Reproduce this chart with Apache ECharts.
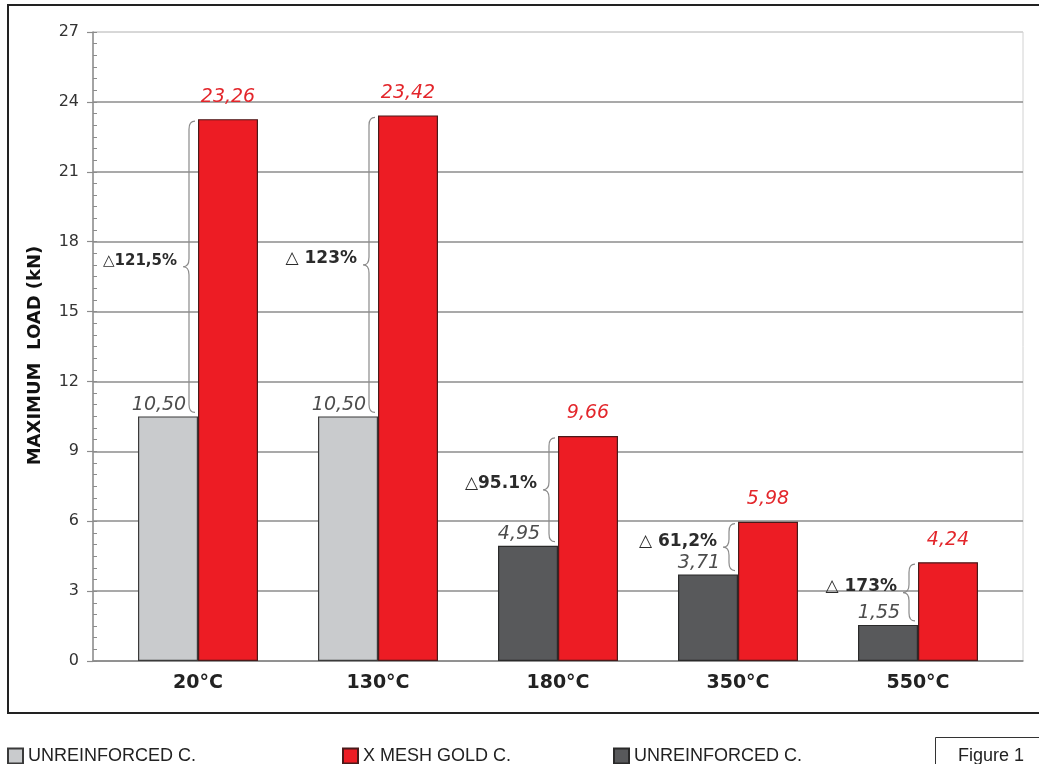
<!DOCTYPE html>
<html>
<head>
<meta charset="utf-8">
<script src="https://cdn.jsdelivr.net/npm/echarts@6/dist/echarts.min.js"></script>
<style>
html,body{margin:0;padding:0;background:#fff;}
#chart{width:1039px;height:764px;}
</style>
</head>
<body>
<div id="chart"></div>
<script>
const categories = ['20°C', '130°C', '180°C', '350°C', '550°C'];
const unreinforcedLight = [10.50, 10.50, null, null, null];
const meshGold = [23.26, 23.42, 9.66, 5.98, 4.24];
const unreinforcedDark = [null, null, 4.95, 3.71, 1.55];
const deltaLabels = ['△121,5%', '△ 123%', '△95.1%', '△ 61,2%', '△ 173%'];
const yTicks = [0, 3, 6, 9, 12, 15, 18, 21, 24, 27];

const fmt = v => v.toFixed(2).replace('.', ',');

const braceData = categories.map((c, i) => {
  const low = unreinforcedLight[i] != null ? unreinforcedLight[i] : unreinforcedDark[i];
  return [i, low, meshGold[i]];
});

const chart = echarts.init(document.getElementById('chart'));

const splitColors = yTicks.map((t, i) => i === yTicks.length - 1 ? '#d2d2d2' : '#8c8c8c');

const legendText = {fontFamily: '"Liberation Sans Narrow","Liberation Sans",Arial,sans-serif', fontSize: 18, color: '#222'};

const option = {
  animation: false,
  backgroundColor: '#fff',
  grid: [
    {left: 93, right: 16, top: 32, bottom: 103, show: true, borderColor: '#d2d2d2', borderWidth: 1, backgroundColor: 'transparent'},
    {left: 108, right: 31, top: 32, bottom: 103}
  ],
  xAxis: [
    {gridIndex: 0, type: 'value', min: 0, max: 1, axisLine: {show: true, onZero: false, lineStyle: {color: '#8c8c8c', width: 1.5}},
     axisTick: {show: false}, axisLabel: {show: false}, splitLine: {show: false}},
    {gridIndex: 1, type: 'category', data: categories, axisLine: {show: false}, axisTick: {show: false}, splitLine: {show: false},
     axisLabel: {margin: 13, fontFamily: '"DejaVu Sans"', fontWeight: 'bold', fontSize: 19, color: '#222'}}
  ],
  yAxis: [
    {gridIndex: 0, type: 'value', position: 'left', min: 0, max: 27, interval: 3,
     name: 'MAXIMUM  LOAD (kN)', nameLocation: 'middle', nameGap: 49, nameRotate: 90,
     nameTextStyle: {fontFamily: '"DejaVu Sans"', fontWeight: 'bold', fontSize: 18, color: '#111', padding: [0, 18, 0, 0]},
     axisLine: {show: true, lineStyle: {color: '#8c8c8c', width: 1.5}},
     axisTick: {show: true, length: 6, lineStyle: {color: '#8c8c8c', width: 1.2}},
     axisLabel: {margin: 14, fontFamily: '"DejaVu Sans"', fontSize: 16, color: '#333'},
     splitLine: {show: true, lineStyle: {color: splitColors, width: 1.5}}},
    {gridIndex: 0, type: 'value', position: 'left', min: 0, max: 27, interval: 0.5,
     axisLine: {show: false}, axisLabel: {show: false}, splitLine: {show: false},
     axisTick: {show: true, inside: true, length: 4, lineStyle: {color: '#8c8c8c', width: 1}}},
    {gridIndex: 1, type: 'value', min: 0, max: 27, show: false}
  ],
  legend: [
    {data: ['UNREINFORCED C.'], left: 2, top: 742, itemWidth: 15, itemHeight: 15, icon: 'rect', textStyle: legendText, selectedMode: false},
    {data: ['X MESH GOLD C.'], left: 337, top: 742, itemWidth: 15, itemHeight: 15, icon: 'rect', textStyle: legendText, selectedMode: false},
    {data: ['UNREINFORCED C. '], left: 608, top: 742, itemWidth: 15, itemHeight: 15, icon: 'rect', textStyle: legendText, selectedMode: false}
  ],
  series: [
    {name: 'UNREINFORCED C.', type: 'bar', stack: 'u', xAxisIndex: 1, yAxisIndex: 2, data: unreinforcedLight,
     barWidth: 60, barGap: '0%',
     itemStyle: {color: '#c9cbcd', borderColor: '#3a3a3a', borderWidth: 1.2},
     label: {show: true, position: 'top', distance: 2, offset: [-9, 0], formatter: p => fmt(p.value),
             fontFamily: '"DejaVu Sans"', fontStyle: 'italic', fontSize: 19, color: '#4d4d4d'}},
    {name: 'X MESH GOLD C.', type: 'bar', xAxisIndex: 1, yAxisIndex: 2, data: meshGold,
     barWidth: 60, barGap: '0%',
     itemStyle: {color: '#ed1c24', borderColor: '#4a1a1a', borderWidth: 1.2},
     label: {show: true, position: 'top', distance: 13, formatter: p => fmt(p.value),
             fontFamily: '"DejaVu Sans"', fontStyle: 'italic', fontSize: 19, color: '#e3262b'}},
    {name: 'UNREINFORCED C. ', type: 'bar', stack: 'u', xAxisIndex: 1, yAxisIndex: 2, data: unreinforcedDark,
     barWidth: 60, barGap: '0%',
     itemStyle: {color: '#58595b', borderColor: '#2a2a2a', borderWidth: 1.2},
     label: {show: true, position: 'top', distance: 2, offset: [-9, 0], formatter: p => fmt(p.value),
             fontFamily: '"DejaVu Sans"', fontStyle: 'italic', fontSize: 19, color: '#4d4d4d'}},
    {name: 'brace', type: 'custom', xAxisIndex: 1, yAxisIndex: 2, data: braceData, z: 5, silent: true,
     renderItem: function (params, api) {
       const i = api.value(0);
       const top = api.coord([i, api.value(2)]);
       const bot = api.coord([i, api.value(1)]);
       const cx = top[0];
       const x0 = cx - 3, x1 = cx - 15, xm = (x0 + x1) / 2;
       const y1 = top[1] + 2, y2 = bot[1] - 4, ym = (y1 + y2) / 2;
       const r = Math.min(8, (y2 - y1) / 4);
       const d = 'M' + x0 + ' ' + y1 + ' Q' + xm + ' ' + y1 + ' ' + xm + ' ' + (y1 + r) +
                 ' L' + xm + ' ' + (ym - r) + ' Q' + xm + ' ' + ym + ' ' + x1 + ' ' + ym +
                 ' Q' + xm + ' ' + ym + ' ' + xm + ' ' + (ym + r) +
                 ' L' + xm + ' ' + (y2 - r) + ' Q' + xm + ' ' + y2 + ' ' + x0 + ' ' + y2;
       const fs = i === 0 ? 15 : 17;
       return {
         type: 'group',
         children: [
           {type: 'path', shape: {pathData: d}, style: {fill: null, stroke: '#8a8a8a', lineWidth: 1.2}},
           {type: 'text', style: {text: deltaLabels[i], x: x1 - 6, y: ym - 6, align: 'right', verticalAlign: 'middle',
             font: 'bold ' + fs + 'px "DejaVu Sans"', fill: '#2b2b2b'}}
         ]
       };
     }}
  ],
  graphic: [
    {type: 'rect', shape: {x: 8, y: 5, width: 1040, height: 708}, style: {fill: null, stroke: '#222', lineWidth: 2}, z: 100},
    {type: 'rect', shape: {x: 935.5, y: 737.5, width: 120, height: 40}, style: {fill: '#fff', stroke: '#333', lineWidth: 1}, z: 100},
    {type: 'text', x: 958, y: 747, style: {text: 'Figure 1', font: '18px "Liberation Sans Narrow","Liberation Sans",Arial,sans-serif', fill: '#222'}, z: 101}
  ]
};

chart.setOption(option);
</script>
</body>
</html>
